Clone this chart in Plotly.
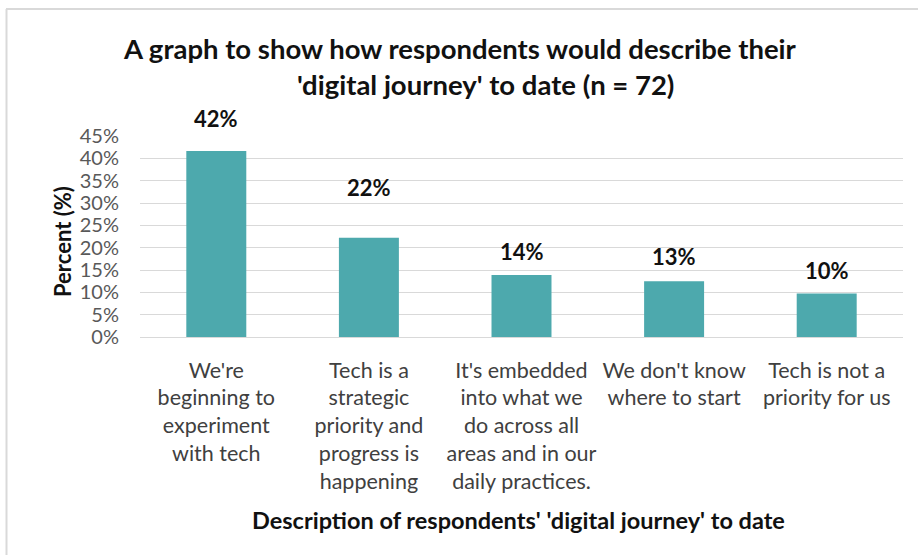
import plotly.graph_objects as go

# Survey responses (n = 72)
categories = [
    "We're<br>beginning to<br>experiment<br>with tech",
    "Tech is a<br>strategic<br>priority and<br>progress is<br>happening",
    "It's embedded<br>into what we<br>do across all<br>areas and in our<br>daily practices.",
    "We don't know<br>where to start",
    "Tech is not a<br>priority for us",
]
counts = [30, 16, 10, 9, 7]
n_total = 72
shares = [c / n_total for c in counts]

tick_vals = [i * 0.05 for i in range(10)]
tick_text = [f"{i * 5}%" for i in range(10)]

# vertical offset (px) of each value label above its bar
label_offsets = [32, 50, 23, 25, 23]

W, H = 918, 555
ML, MR, MT, MB = 140, 15, 136, 218
PW, PH = W - ML - MR, H - MT - MB


def px_x(px):
    return (px - ML) / PW


def px_y(py):
    return (H - MB - py) / PH


def pct_label(v):
    # round half up, as spreadsheet labels do
    return f"{int(v * 100 + 0.5)}%"


FONT = "Lato"
BAR = "#4DA9AD"

fig = go.Figure(
    go.Bar(
        x=list(range(len(categories))),
        y=shares,
        marker=dict(color=BAR, line=dict(width=0)),
        hoverinfo="skip",
    )
)

annotations = []
for i, v in enumerate(shares):
    annotations.append(dict(
        x=i, y=v, xref="x", yref="y", text=pct_label(v),
        showarrow=False, yshift=label_offsets[i], yanchor="middle",
        font=dict(family=FONT, size=22, color="#111111", weight="bold"),
    ))

title_lines = [
    "A graph to show how respondents would describe their",
    "'digital journey' to date (n = 72)",
]
for line, cx, py in zip(title_lines, [460, 485], [48, 84]):
    annotations.append(dict(
        x=px_x(cx), y=px_y(py), xref="paper", yref="paper", text=line,
        showarrow=False, xanchor="center", yanchor="middle",
        font=dict(family=FONT, size=27.5, color="#111111", weight="bold"),
    ))

annotations.append(dict(
    x=px_x(518), y=px_y(520), xref="paper", yref="paper",
    text="Description of respondents' 'digital journey' to date",
    showarrow=False, xanchor="center", yanchor="middle",
    font=dict(family=FONT, size=23.5, color="#111111", weight="bold"),
))
annotations.append(dict(
    x=px_x(62), y=px_y(242), xref="paper", yref="paper",
    text="Percent (%)", textangle=-90,
    showarrow=False, xanchor="center", yanchor="middle",
    font=dict(family=FONT, size=22, color="#111111", weight="bold"),
))

border = "#D9D9D9"
shapes = [
    dict(type="line", xref="paper", yref="paper",
         x0=px_x(6), x1=px_x(W), y0=px_y(9), y1=px_y(9),
         line=dict(color=border, width=2)),
    dict(type="line", xref="paper", yref="paper",
         x0=px_x(6.5), x1=px_x(6.5), y0=px_y(9), y1=px_y(H),
         line=dict(color=border, width=2)),
]

fig.update_layout(
    width=W, height=H,
    margin=dict(l=ML, r=MR, t=MT, b=MB, pad=0),
    paper_bgcolor="white", plot_bgcolor="white",
    showlegend=False, bargap=0.607,
    annotations=annotations, shapes=shapes,
    font=dict(family=FONT),
)
fig.update_xaxes(
    tickmode="array", tickvals=list(range(len(categories))), ticktext=categories,
    range=[-0.5, len(categories) - 0.5],
    showgrid=False, zeroline=False, showline=False, ticks="",
    tickfont=dict(family=FONT, size=21.5, color="#404040"),
    ticklabelstandoff=18, tickangle=0,
)
fig.update_yaxes(
    range=[0, 0.45], tickmode="array", tickvals=tick_vals, ticktext=tick_text,
    showgrid=True, gridcolor="#D9D9D9", gridwidth=1,
    zeroline=True, zerolinecolor="#D9D9D9", zerolinewidth=1,
    showline=False, ticks="",
    tickfont=dict(family=FONT, size=20, color="#595959"),
    ticklabelstandoff=20,
)

fig.write_html("out.html")
